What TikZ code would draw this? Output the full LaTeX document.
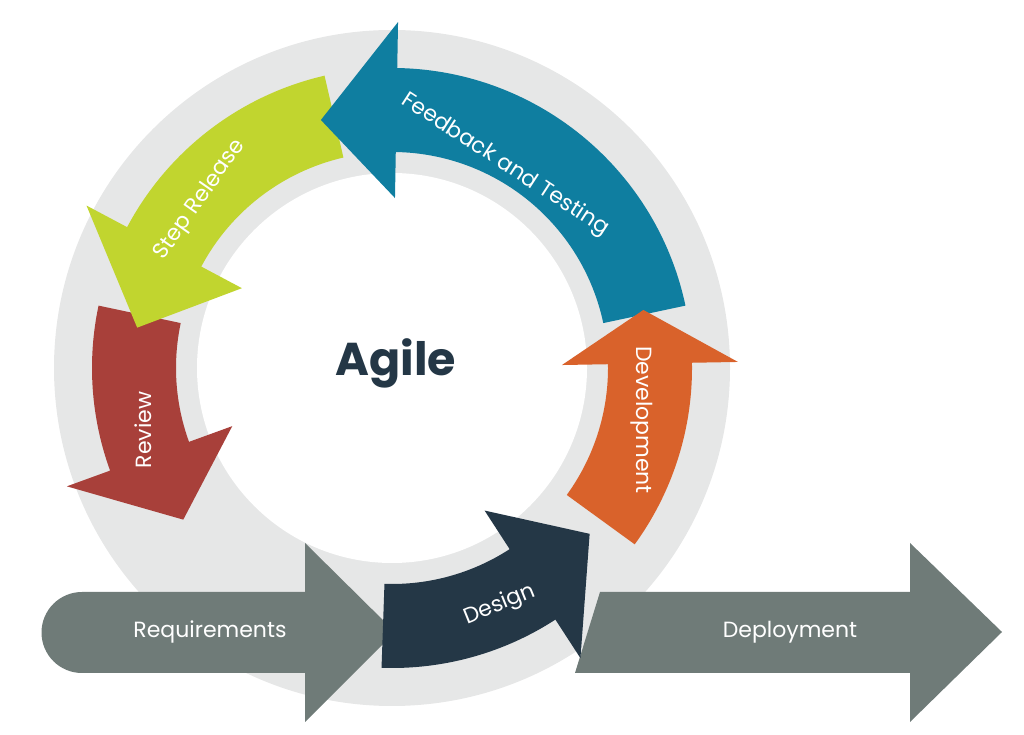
\documentclass[tikz,border=0pt]{standalone}
\usepackage{fontspec}
\setmainfont{Poppins}
\definecolor{ring}{HTML}{E6E7E7}
\definecolor{navy}{HTML}{243746}
\definecolor{orng}{HTML}{D9622B}
\definecolor{teal}{HTML}{0F7EA0}
\definecolor{lime}{HTML}{C1D52F}
\definecolor{brick}{HTML}{A8403A}
\definecolor{slate}{HTML}{6F7B78}
\newcommand{\arcarrow}[4]{% a1 a2 a3 color
  \fill[#4,shift={(392,367)}] (#1:300) arc[start angle=#1,end angle=#2,radius=300]
   -- (#2:346) -- (#3:258) -- (#2:170) -- (#2:216)
   arc[start angle=#2,end angle=#1,radius=216] -- cycle;}
\tikzset{lbl/.style={text=white,font=\fontsize{22}{26}\selectfont}}
\begin{document}
\begin{tikzpicture}[x=1pt,y=1pt]
\useasboundingbox (0,0) rectangle (1024,735);
\fill[ring] (392,367) circle[radius=338];
\fill[white] (392,367) circle[radius=195];
\fill[slate] (600,143) -- (910,143) -- (910,192) -- (1002,103) -- (910,13) -- (910,62) -- (575,62) -- cycle;
\fill[slate] (82,143) -- (305,143) -- (305,192) -- (395,103) -- (305,13) -- (305,62) -- (82,62) arc[start angle=270,end angle=90,radius=40.5] -- cycle;
\arcarrow{168}{200}{216}{brick}
\arcarrow{103}{152}{171}{lime}
\arcarrow{12}{89}{106}{teal}
\arcarrow{-36}{1}{13}{orng}
\arcarrow{-92}{-57}{-40}{navy}
\node[font=\bfseries\fontsize{46}{52}\selectfont,text=navy] (agile) at (396,372) {Agile};
\node[lbl,rotate=-33] (fb) at (505,570) {Feedback and Testing};
\node[lbl,rotate=55] (sr) at (200,535) {Step Release};
\node[lbl,rotate=90] (rv) at (143,305) {Review};
\node[lbl,rotate=-90] (dv) at (642,315) {Development};
\node[lbl,rotate=22] (ds) at (500,130) {Design};
\node[lbl] (rq) at (210,103) {Requirements};
\node[lbl] (dp) at (790,103) {Deployment};
\end{tikzpicture}
\end{document}
